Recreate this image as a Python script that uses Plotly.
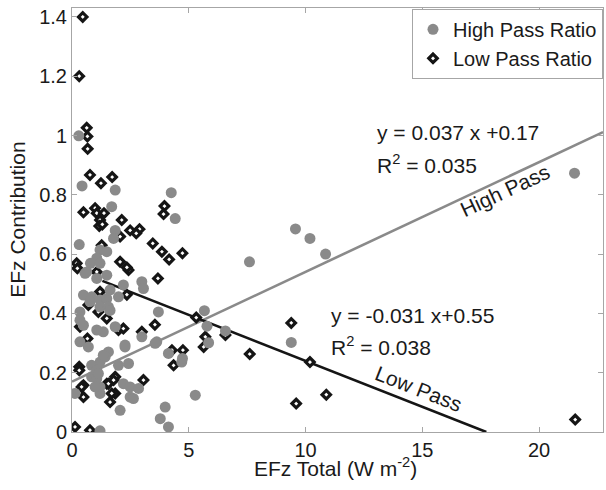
import plotly.graph_objects as go

# ---- data ----
high_x = [0.29, 0.43, 1.85, 1.70, 1.85, 1.78, 4.25, 4.42, 0.31, 1.20, 1.49, 1.06, 0.79, 1.20,
          0.63, 1.06, 1.49, 0.49, 0.84, 1.20, 1.49, 1.63, 2.20, 1.99, 0.77, 1.20, 1.56, 1.63,
          0.34, 0.34, 0.49, 1.34, 1.85, 0.34, 0.70, 2.27, 2.99, 3.63, 3.70, 4.13, 4.70, 1.56,
          1.42, 1.20, 0.84, 1.06, 0.84, 1.06, 1.20, 1.20, 1.99, 2.42, 2.20, 2.49, 2.49, 2.06,
          0.13, 1.20, 3.99, 3.78, 4.13, 5.28, 5.67, 5.78, 5.85, 6.57, 4.73, 7.60, 9.57, 10.19,
          10.86, 9.39, 21.52, 1.34, 1.13, 0.99, 2.85, 2.63, 2.27, 2.99, 3.06, 1.06, 0.56, 3.56]
high_y = [0.999, 0.830, 0.816, 0.760, 0.680, 0.653, 0.807, 0.720, 0.632, 0.614, 0.608, 0.586,
          0.569, 0.569, 0.540, 0.518, 0.529, 0.462, 0.456, 0.445, 0.450, 0.479, 0.496, 0.456,
          0.440, 0.422, 0.422, 0.410, 0.405, 0.377, 0.360, 0.338, 0.355, 0.304, 0.287, 0.287,
          0.321, 0.304, 0.405, 0.265, 0.236, 0.270, 0.253, 0.236, 0.225, 0.208, 0.186, 0.180,
          0.152, 0.130, 0.225, 0.231, 0.163, 0.152, 0.118, 0.073, 0.130, 0.004, 0.084, 0.045,
          0.017, 0.124, 0.409, 0.357, 0.301, 0.341, 0.248, 0.574, 0.685, 0.653, 0.600, 0.302,
          0.873, 0.259, 0.197, 0.152, 0.147, 0.113, 0.293, 0.507, 0.484, 0.344, 0.535, 0.299]

low_x = [0.46, 0.31, 0.63, 0.66, 0.67, 0.77, 1.24, 1.72, 0.49, 0.99, 1.06, 1.20, 1.37, 1.17,
         2.13, 2.49, 2.89, 2.06, 3.96, 3.92, 3.46, 3.85, 4.16, 4.73, 0.20, 0.23, 1.06, 1.27,
         2.06, 2.42, 2.35, 1.20, 2.35, 0.70, 1.13, 1.49, 0.34, 1.99, 2.20, 2.99, 3.55, 3.68,
         2.75, 0.66, 0.31, 0.31, 0.49, 0.49, 1.49, 1.63, 1.85, 1.85, 3.06, 4.35, 4.75, 4.28,
         0.13, 0.77, 5.32, 5.71, 5.64, 6.57, 7.61, 9.39, 10.19, 9.60, 10.89, 21.55, 1.30,
         0.41, 1.56, 1.78, 1.70]
low_y = [1.400, 1.200, 1.026, 0.997, 0.955, 0.867, 0.839, 0.860, 0.741, 0.755, 0.738, 0.715,
         0.738, 0.695, 0.715, 0.680, 0.684, 0.659, 0.762, 0.735, 0.636, 0.608, 0.582, 0.603,
         0.569, 0.552, 0.540, 0.630, 0.574, 0.546, 0.555, 0.473, 0.463, 0.428, 0.405, 0.383,
         0.355, 0.344, 0.349, 0.338, 0.362, 0.518, 0.670, 0.315, 0.220, 0.208, 0.158, 0.118,
         0.163, 0.101, 0.130, 0.186, 0.175, 0.225, 0.276, 0.276, 0.017, 0.006, 0.386, 0.321,
         0.287, 0.327, 0.263, 0.368, 0.236, 0.096, 0.126, 0.042, 0.700, 0.152, 0.163, 0.175,
         0.130]

# linear fits shown on the chart
high_fit = {"slope": 0.037, "intercept": 0.17, "x": [0.0, 22.74]}
low_fit = {"slope": -0.031, "intercept": 0.55, "x": [1.3, 0.55 / 0.031]}

x_ticks = [0, 5, 10, 15, 20]
y_ticks = [0, 0.2, 0.4, 0.6, 0.8, 1.0, 1.2, 1.4]
y_tick_text = ["0", "0.2", "0.4", "0.6", "0.8", "1", "1.2", "1.4"]

FONT = "Liberation Sans, Arial, Helvetica, sans-serif"
GRAY = "#8a8a8a"
DARK = "#151515"
AXIS = "#a6a6a6"
TXT = "#1a1a1a"

fig = go.Figure()

for fit, col in ((high_fit, GRAY), (low_fit, DARK)):
    fx = fit["x"]
    fy = [fit["slope"] * v + fit["intercept"] for v in fx]
    fig.add_trace(go.Scatter(x=fx, y=fy, mode="lines", showlegend=False,
                             line=dict(color=col, width=2.6), hoverinfo="skip"))

fig.add_trace(go.Scatter(x=low_x, y=low_y, mode="markers", name="Low Pass Ratio",
                         legendrank=2,
                         marker=dict(symbol="diamond", size=6.5, color="white",
                                     line=dict(color=DARK, width=3.2))))
fig.add_trace(go.Scatter(x=high_x, y=high_y, mode="markers", name="High Pass Ratio",
                         legendrank=1,
                         marker=dict(symbol="circle", size=11, color=GRAY,
                                     line=dict(width=0))))

ann_font = dict(family=FONT, size=21, color=TXT)
anns = [
    dict(x=12.98, y=1.009, text="y = 0.037 x +0.17", xanchor="left"),
    dict(x=12.98, y=0.905, text="R<sup>2</sup> = 0.035", xanchor="left"),
    dict(x=11.0, y=0.394, text="y = -0.031 x+0.55", xanchor="left"),
    dict(x=11.0, y=0.290, text="R<sup>2</sup> = 0.038", xanchor="left"),
    dict(x=18.54, y=0.815, text="High Pass", xanchor="center", textangle=-25),
    dict(x=14.83, y=0.146, text="Low Pass", xanchor="center", textangle=21.5),
]
for a in anns:
    fig.add_annotation(xref="x", yref="y", yanchor="middle", showarrow=False,
                       font=ann_font, **a)

# axis titles placed as annotations for exact positioning
fig.add_annotation(xref="paper", yref="paper", x=0.497, y=-0.082, xanchor="center",
                   yanchor="middle", showarrow=False, font=dict(family=FONT, size=21, color=TXT),
                   text="EFz Total (W m<sup>-2</sup>)")
fig.add_annotation(xref="paper", yref="paper", x=-0.104, y=0.5, xanchor="center",
                   yanchor="middle", showarrow=False, textangle=-90,
                   font=dict(family=FONT, size=21, color=TXT), text="EFz Contribution")

axis_common = dict(showgrid=False, zeroline=False, showline=True, linecolor=AXIS,
                   linewidth=1, mirror="ticks", ticks="inside", ticklen=5,
                   tickcolor=AXIS, automargin=False,
                   tickfont=dict(family=FONT, size=20, color=TXT))

fig.update_layout(
    width=606, height=490,
    margin=dict(l=72, r=3, t=8, b=58),
    paper_bgcolor="white", plot_bgcolor="white",
    font=dict(family=FONT, size=20, color=TXT),
    xaxis=dict(range=[0, 22.74], tickvals=x_ticks, ticktext=[str(v) for v in x_ticks],
               **axis_common),
    yaxis=dict(range=[0, 1.43], tickvals=y_ticks, ticktext=y_tick_text,
               **axis_common),
    legend=dict(x=1.0, y=0.998, xanchor="right", yanchor="top",
                bgcolor="white", bordercolor=AXIS, borderwidth=1,
                font=dict(family=FONT, size=20, color=TXT),
                itemwidth=30, tracegroupgap=0),
    showlegend=True,
)

fig.write_html("out.html", config={"displayModeBar": False},
               post_script="document.body.style.margin='0';")
